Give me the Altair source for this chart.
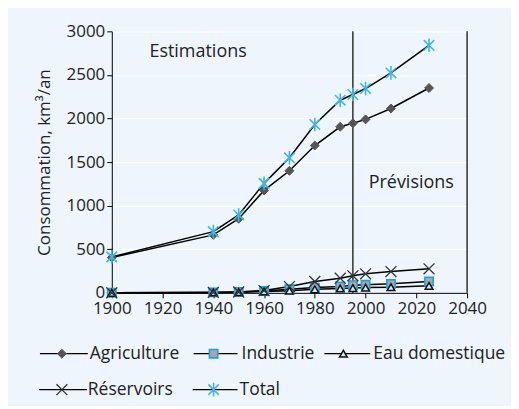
import altair as alt
import pandas as pd

years = [1900, 1940, 1950, 1960, 1970, 1980, 1990, 1995, 2000, 2010, 2025]
agriculture = [405, 665, 850, 1175, 1400, 1690, 1905, 1945, 1990, 2115, 2350]
industrie = [0, 5, 10, 20, 40, 60, 72, 88, 92, 103, 130]
eau_domestique = [0, 5, 8, 15, 25, 40, 50, 55, 60, 65, 80]
reservoirs = [0, 5, 10, 26, 72, 130, 168, 195, 218, 244, 275]
total = [412, 702, 893, 1256, 1549, 1932, 2210, 2275, 2344, 2523, 2840]

series_names = ["Agriculture", "Industrie", "Eau domestique", "Réservoirs", "Total"]
series_values = [agriculture, industrie, eau_domestique, reservoirs, total]

x_ticks = [1900, 1920, 1940, 1960, 1980, 2000, 2020, 2040]
y_ticks = [0, 500, 1000, 1500, 2000, 2500, 3000]
period_lines = [1995, 2040]
annotations = ["Estimations", "Prévisions"]
annot_x = [1934, 2018]
annot_y = [2760, 1260]

FONT = "Open Sans"
TXT = "#222222"
W, H = 356, 262
X0, X1, Y0, Y1 = 1900, 2040, 0, 3000

rows = []
for name, vals in zip(series_names, series_values):
    for yr, v in zip(years, vals):
        rows.append({"annee": yr, "valeur": v, "serie": name})
df = pd.DataFrame(rows)

X_SHAPE = "M-1,-1L1,1M-1,1L1,-1"
STAR_SHAPE = "M-1,-1L1,1M-1,1L1,-1M0,-1.3L0,1.3"
styles = {
    "Agriculture": dict(shape="diamond", filled=True, fill="#555555", stroke="#555555", size=80, strokeWidth=1, opacity=1),
    "Industrie": dict(shape="square", filled=True, fill="#A8A8A8", stroke="#1E9FE0", size=70, strokeWidth=1.6, opacity=1),
    "Eau domestique": dict(shape="triangle-up", filled=True, fill="#CDE9F9", stroke="#111111", size=60, strokeWidth=1.5, opacity=1),
    "Réservoirs": dict(shape=X_SHAPE, filled=False, stroke="#333333", size=120, strokeWidth=1.3, opacity=1),
    "Total": dict(shape=STAR_SHAPE, filled=False, stroke="#41B6E6", size=110, strokeWidth=1.6, opacity=1),
}

xenc = alt.X("annee:Q",
             scale=alt.Scale(domain=[X0, X1], nice=False, zero=False),
             axis=alt.Axis(values=x_ticks, format="d", title=None, grid=False,
                           tickSize=5, labelFontSize=17, labelPadding=3,
                           labelOverlap=False, labelFlush=False, labelFont=FONT, labelColor=TXT,
                           domainColor="black", tickColor="black"))
yenc = alt.Y("valeur:Q",
             scale=alt.Scale(domain=[Y0, Y1], nice=False),
             axis=alt.Axis(values=y_ticks, format="d", title="Consommation, km³/an", grid=True,
                           gridColor="white", gridWidth=1.2, tickSize=5, labelFlush=False,
                           labelFontSize=17, labelPadding=2, labelFont=FONT,
                           labelColor=TXT, titleFont=FONT, titleFontSize=17,
                           titleFontWeight="normal", titleColor=TXT, titlePadding=13,
                           domainColor="black", tickColor="black"))

base = alt.Chart(df)
layers = []
layers.append(
    alt.Chart(pd.DataFrame({"annee": period_lines})).mark_rule(color="black", strokeWidth=1.2)
    .encode(x=xenc)
)
layers.append(
    base.mark_line(color="black", strokeWidth=1.5).encode(x=xenc, y=yenc, detail="serie:N")
)
for name in series_names:
    st = styles[name]
    layers.append(
        base.transform_filter(alt.datum.serie == name)
        .mark_point(**st)
        .encode(x="annee:Q", y="valeur:Q")
    )
ann_df = pd.DataFrame({"annee": annot_x, "valeur": annot_y, "txt": annotations})
layers.append(
    alt.Chart(ann_df).mark_text(font=FONT, fontSize=18, color=TXT)
    .encode(x="annee:Q", y="valeur:Q", text="txt:N")
)

# legend layout: pixel offsets from plot origin, converted to data units
leg_line_x0 = [-72, 82, 213, -73, 81]
leg_line_x1 = [-24, 126, 259, -25, 126]
leg_mark_x = [-50, 102, 232, -50, 102]
leg_text_x = [-22, 130, 262, -24, 128]
leg_y = [323, 323, 323, 359, 359]


def px_x(p):
    return X0 + p / W * (X1 - X0)


def px_y(p):
    return Y1 - p / H * (Y1 - Y0)


leg_df = pd.DataFrame({
    "serie": series_names,
    "x0": [px_x(p) for p in leg_line_x0],
    "x1": [px_x(p) for p in leg_line_x1],
    "xm": [px_x(p) for p in leg_mark_x],
    "xt": [px_x(p) for p in leg_text_x],
    "ly": [px_y(p) for p in leg_y],
})
leg = alt.Chart(leg_df)
layers.append(
    leg.mark_rule(color="black", strokeWidth=1.3, clip=False).encode(
        x=alt.X("x0:Q"), x2="x1:Q", y=alt.Y("ly:Q"))
)
for name in series_names:
    st = styles[name]
    layers.append(
        leg.transform_filter(alt.datum.serie == name)
        .mark_point(clip=False, **st)
        .encode(x=alt.X("xm:Q"), y=alt.Y("ly:Q"))
    )
layers.append(
    leg.mark_text(font=FONT, fontSize=17.5, color=TXT, align="left", baseline="middle", clip=False)
    .encode(x=alt.X("xt:Q"), y=alt.Y("ly:Q"), text="serie:N")
)

chart = alt.layer(*layers).properties(
    width=W, height=H,
    padding={"left": 27, "top": 14, "right": 5, "bottom": 5},
    background="#EEF5FC",
).configure_view(stroke=None)

chart.save("out.html", embed_options={"renderer": "svg", "actions": False})
